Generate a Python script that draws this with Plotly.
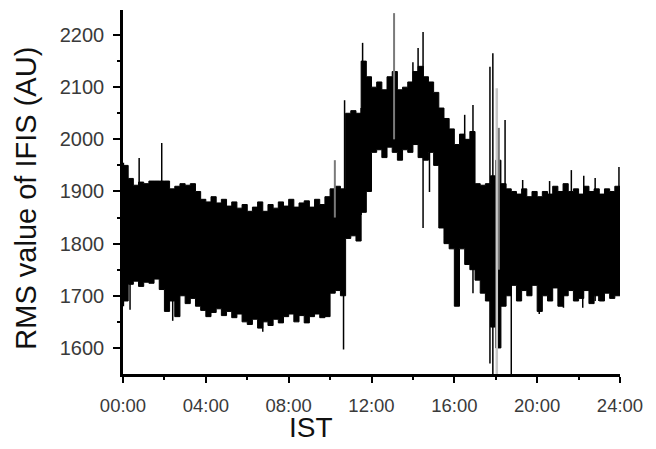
import plotly.graph_objects as go

# Quarter-hour time grid (IST hours)
hours = [i * 0.25 for i in range(97)]

# Upper edge of the RMS band at each quarter hour
rms_high = [
    1950, 1925, 1912, 1918, 1915, 1920, 1920, 1920, 1920, 1905, 1910, 1915,
    1912, 1915, 1900, 1885, 1880, 1890, 1878, 1885, 1872, 1880, 1868, 1875,
    1862, 1870, 1880, 1862, 1875, 1868, 1880, 1872, 1885, 1870, 1878, 1882,
    1870, 1885, 1875, 1890, 1905, 1910, 1905, 2050, 2055, 2050, 2150, 2120,
    2100, 2110, 2095, 2120, 2130, 2095, 2100, 2110, 2130, 2140, 2120, 2110,
    2090, 2060, 2040, 2020, 1990, 2010, 2000, 2015, 1915, 1912, 1915, 1930,
    1960, 1915, 1905, 1900, 1895, 1905, 1890, 1900, 1890, 1900, 1895, 1910,
    1900, 1915, 1900, 1905, 1895, 1910, 1900, 1905, 1895, 1905, 1900, 1910,
    1900,
]

# Lower edge of the RMS band at each quarter hour
rms_low = [
    1690, 1722, 1728, 1718, 1726, 1724, 1732, 1712, 1670, 1690, 1660, 1700,
    1685, 1695, 1680, 1672, 1660, 1668, 1675, 1662, 1670, 1658, 1665, 1650,
    1645, 1655, 1638, 1650, 1643, 1655, 1648, 1660, 1665, 1650, 1662, 1648,
    1660, 1665, 1658, 1660, 1705, 1710, 1700, 1810, 1815, 1805, 1860, 1900,
    1975, 1980, 1965, 1985, 1975, 1960, 1980, 1975, 1990, 1965, 1960, 1975,
    1950, 1830, 1800, 1790, 1680, 1790, 1760, 1750, 1730, 1705, 1690, 1640,
    1600, 1680, 1700, 1720, 1690, 1710, 1700, 1720, 1670, 1700, 1690, 1715,
    1680, 1700, 1710, 1690, 1695, 1710, 1685, 1700, 1690, 1705, 1695, 1700,
    1700,
]

# Isolated excursions: time (h), low value, high value
spike_t = [0.02, 0.34, 0.78, 1.87, 2.4, 6.75, 10.65, 10.7, 11.5, 11.57,
           14.0, 14.25, 14.49, 14.8, 16.5, 16.9, 17.72, 17.86, 18.45, 18.75,
           19.3, 20.1, 20.6, 21.27, 21.65, 22.2, 22.25, 22.8, 22.98, 23.95]
spike_lo = [1680, 1673, 1900, 1900, 1652, 1631, 1597, 1900, 1855, 1990,
            2050, 2050, 1830, 1899, 1990, 1705, 1570, 1550, 1690, 1550,
            1880, 1665, 1880, 1677, 1880, 1677, 1880, 1690, 1690, 1880]
spike_hi = [1955, 1730, 1964, 1993, 1700, 1660, 1900, 2075, 2060, 2185,
            2148, 2175, 2206, 2000, 2047, 2066, 2139, 2165, 2037, 1750,
            1922, 1720, 1920, 1720, 1941, 1720, 1930, 1926, 1720, 1947]

# Lighter (grey) excursions
grey_t = [10.23, 13.09, 18.15]
grey_lo = [1850, 2000, 1750]
grey_hi = [1960, 2242, 2022]
pale_t = [18.05]
pale_lo = [1550]
pale_hi = [2098]

x_ticks = [0, 4, 8, 12, 16, 20, 24]
x_labels = ["00:00", "04:00", "08:00", "12:00", "16:00", "20:00", "24:00"]
y_ticks = [1600, 1700, 1800, 1900, 2000, 2100, 2200]


def segments(ts, lo, hi):
    xs, ys = [], []
    for t, a, b in zip(ts, lo, hi):
        xs += [t, t, None]
        ys += [a, b, None]
    return xs, ys


fig = go.Figure()

fig.add_trace(go.Scatter(
    x=hours, y=rms_low, mode="lines", line=dict(color="black", width=1, shape="hv"),
    showlegend=False, hoverinfo="skip"))
fig.add_trace(go.Scatter(
    x=hours, y=rms_high, mode="lines", line=dict(color="black", width=1, shape="hv"),
    fill="tonexty", fillcolor="black", showlegend=False, hoverinfo="skip"))

for ts, lo, hi, col, w in [
    (pale_t, pale_lo, pale_hi, "#c8c8c8", 2.5),
    (grey_t, grey_lo, grey_hi, "#7a7a7a", 2),
    (spike_t, spike_lo, spike_hi, "black", 1.5),
]:
    sx, sy = segments(ts, lo, hi)
    fig.add_trace(go.Scatter(x=sx, y=sy, mode="lines", line=dict(color=col, width=w),
                             showlegend=False, hoverinfo="skip"))

tick_font = dict(family="Liberation Sans, Arial, sans-serif", size=18.5, color="#3a3a3a")

fig.update_layout(
    width=656, height=449,
    margin=dict(l=123, r=36, t=10, b=75),
    paper_bgcolor="white", plot_bgcolor="white",
    xaxis=dict(
        range=[0, 24], showgrid=False, zeroline=False,
        showline=True, linecolor="black", linewidth=2.5,
        tickmode="array", tickvals=x_ticks, ticktext=x_labels,
        ticks="outside", ticklen=6, tickwidth=1.5, tickcolor="black",
        tickfont=tick_font, ticklabelstandoff=7,
        minor=dict(tickmode="array", tickvals=[2, 6, 10, 14, 18, 22],
                   ticks="outside", ticklen=3, tickwidth=1.5, tickcolor="black"),
    ),
    yaxis=dict(
        range=[1550, 2248], showgrid=False, zeroline=False,
        showline=True, linecolor="black", linewidth=2.5,
        tickmode="array", tickvals=y_ticks,
        ticks="outside", ticklen=7, tickwidth=1.5, tickcolor="black",
        tickfont=dict(family="Liberation Sans, Arial, sans-serif", size=20, color="#3a3a3a"),
        ticklabelstandoff=5,
        minor=dict(tickmode="array", tickvals=[1650, 1750, 1850, 1950, 2050, 2150],
                   ticks="outside", ticklen=3, tickwidth=1.5, tickcolor="black"),
    ),
    annotations=[
        dict(text="RMS value of IFIS (AU)", xref="paper", yref="paper",
             x=-0.197, y=0.482, textangle=-90, showarrow=False,
             xanchor="center", yanchor="middle",
             font=dict(family="Liberation Sans, Arial, sans-serif", size=29, color="#111")),
        dict(text="IST", xref="paper", yref="paper",
             x=0.378, y=-0.146, showarrow=False, xanchor="center", yanchor="middle",
             font=dict(family="Liberation Sans, Arial, sans-serif", size=28, color="#111")),
    ],
)

fig.write_html("out.html")
